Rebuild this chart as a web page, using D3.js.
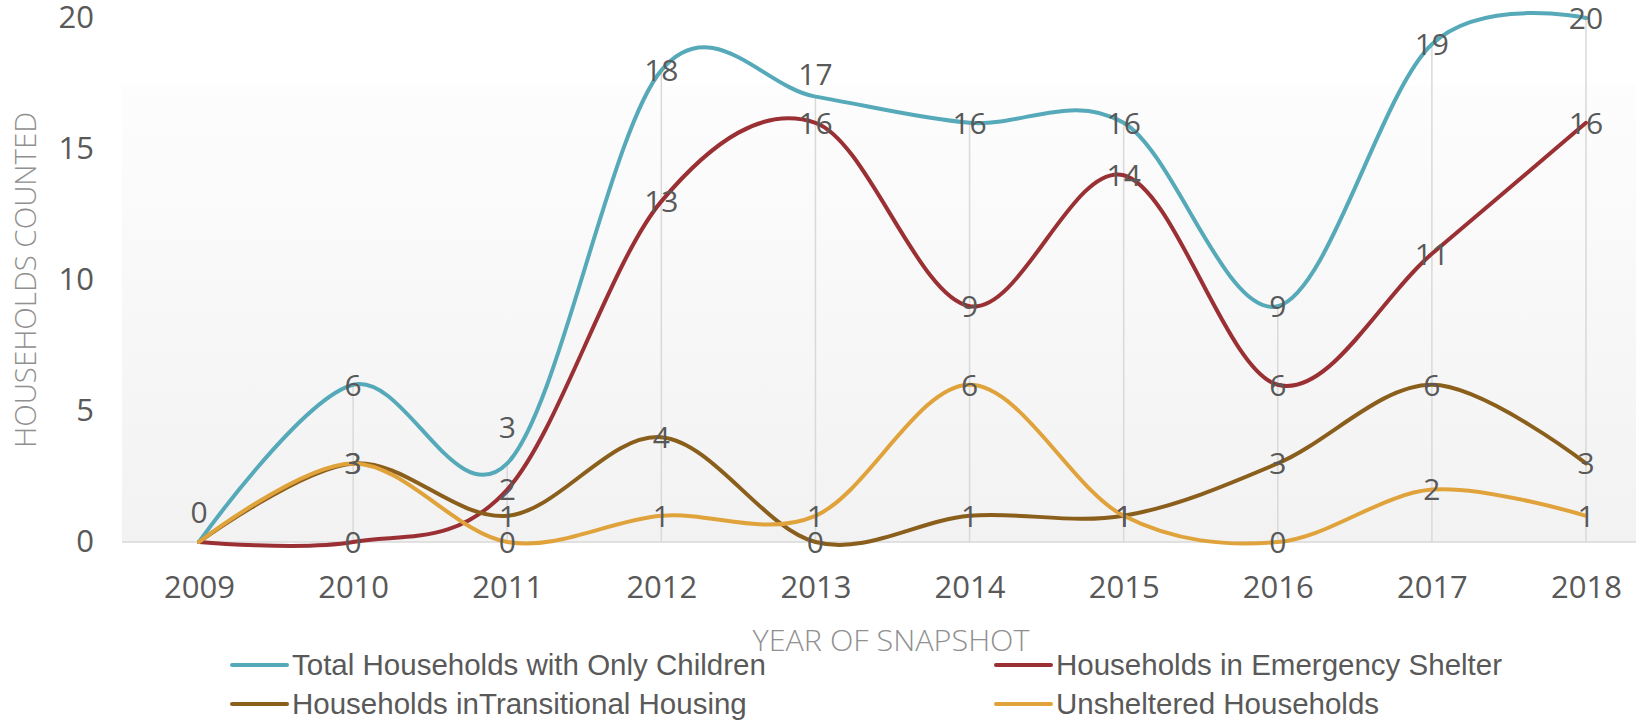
<!DOCTYPE html>
<html>
<head>
<meta charset="utf-8">
<script src="https://cdn.jsdelivr.net/npm/d3@7"></script>
<style>
  body { margin: 0; background: #fff; }
  svg { display: block; }
</style>
</head>
<body>
<svg id="chart"></svg>
<script>
var width = 1636,
    height = 722;

var years = ["2009", "2010", "2011", "2012", "2013", "2014", "2015", "2016", "2017", "2018"];
var totalHouseholds = [0, 6, 3, 18, 17, 16, 16, 9, 19, 20];
var emergencyShelter = [0, 0, 2, 13, 16, 9, 14, 6, 11, 16];
var transitionalHousing = [0, 3, 1, 4, 0, 1, 1, 3, 6, 3];
var unsheltered = [0, 3, 0, 1, 1, 6, 1, 0, 2, 1];
var seriesNames = ["Total Households with Only Children", "Households in Emergency Shelter",
                   "Households inTransitional Housing", "Unsheltered Households"];
var yTicks = [0, 5, 10, 15, 20];

var colors = ["#55a9b9", "#9a3034", "#8a5e1b", "#e0a33b"];
var series = [totalHouseholds, emergencyShelter, transitionalHousing, unsheltered].map(function(v, i) {
    return { name: seriesNames[i], values: v, color: colors[i], id: i };
});

// labels moved above the point in the original (series id -> index -> px)
var labelLift = { 0: { 0: 30, 2: 36, 4: 22 } };

var x = d3.scalePoint().domain(years).range([199, 1586]);
var y = d3.scaleLinear().domain([0, 20]).range([542, 18]);

var svg = d3.select("#chart").attr("width", width).attr("height", height);

// plot background gradient
var defs = svg.append("defs");
var grad = defs.append("linearGradient").attr("id", "bg").attr("x1", 0).attr("y1", 0).attr("x2", 0).attr("y2", 1);
grad.append("stop").attr("offset", "0%").attr("stop-color", "#fdfdfd");
grad.append("stop").attr("offset", "100%").attr("stop-color", "#f2f2f2");
svg.append("rect")
    .attr("x", 122).attr("y", 85)
    .attr("width", width - 122).attr("height", 542 - 85)
    .attr("fill", "url(#bg)");

// drop lines
svg.selectAll(".drop").data(years)
    .enter()
    .append("line")
        .attr("x1", function(d) { return x(d); })
        .attr("x2", function(d) { return x(d); })
        .attr("y1", function(d, i) { return y(d3.max(series, function(s) { return s.values[i]; })); })
        .attr("y2", y(0))
        .style("stroke", "#d9d9d9")
        .style("stroke-width", 1.5);

// baseline
svg.append("line")
    .attr("x1", 122).attr("x2", width)
    .attr("y1", y(0)).attr("y2", y(0))
    .style("stroke", "#d9d9d9")
    .style("stroke-width", 1.5);

// y axis
var yAxis = svg.append("g")
    .attr("transform", "translate(94,0)")
    .call(d3.axisLeft(y).tickValues(yTicks).tickSize(0).tickPadding(0));
yAxis.select(".domain").remove();
yAxis.selectAll("text")
    .style("font-family", "'Open Sans', sans-serif")
    .style("font-size", "31px")
    .style("fill", "#595959");

// x axis
var xAxis = svg.append("g")
    .attr("transform", "translate(0," + y(0) + ")")
    .call(d3.axisBottom(x).tickSize(0).tickPadding(0));
xAxis.select(".domain").remove();
xAxis.selectAll("text")
    .attr("y", 45)
    .attr("dy", "0.36em")
    .style("font-family", "'Open Sans', sans-serif")
    .style("font-size", "31px")
    .style("fill", "#595959");

// axis titles
svg.append("text")
    .attr("transform", "translate(36,280) rotate(-90)")
    .attr("text-anchor", "middle")
    .attr("textLength", 336)
    .attr("lengthAdjust", "spacingAndGlyphs")
    .style("font-family", "'Open Sans', sans-serif")
    .style("font-weight", 300)
    .style("font-size", "30px")
    .style("fill", "#909090")
    .text("HOUSEHOLDS COUNTED");

svg.append("text")
    .attr("x", 891).attr("y", 651)
    .attr("text-anchor", "middle")
    .attr("textLength", 277)
    .attr("lengthAdjust", "spacingAndGlyphs")
    .style("font-family", "'Open Sans', sans-serif")
    .style("font-weight", 300)
    .style("font-size", "30px")
    .style("fill", "#909090")
    .text("YEAR OF SNAPSHOT");

// lines
var line = d3.line()
    .x(function(d, i) { return x(years[i]); })
    .y(function(d) { return y(d); })
    .curve(d3.curveCardinal.tension(0));

svg.selectAll(".series").data(series)
    .enter()
    .append("path")
        .attr("d", function(d) { return line(d.values); })
        .style("fill", "none")
        .style("stroke", function(d) { return d.color; })
        .style("stroke-width", 4)
        .style("stroke-linecap", "round")
        .style("stroke-linejoin", "round");

// data labels
var labels = [];
series.forEach(function(s) {
    s.values.forEach(function(v, i) {
        if (i === 0 && s.id !== 0) return;
        var lift = (labelLift[s.id] && labelLift[s.id][i]) || 0;
        labels.push({ v: v, x: x(years[i]), y: y(v) - lift });
    });
});
svg.selectAll(".lbl").data(labels)
    .enter()
    .append("text")
        .attr("x", function(d) { return d.x; })
        .attr("y", function(d) { return d.y; })
        .attr("dy", "0.36em")
        .attr("text-anchor", "middle")
        .style("font-family", "'Open Sans', sans-serif")
        .style("font-size", "30px")
        .style("fill", "#595959")
        .text(function(d) { return d.v; });

// legend
var legendPos = [[232, 665], [996, 665], [232, 704], [996, 704]];
var legend = svg.selectAll(".legend").data(series)
    .enter()
    .append("g")
        .attr("transform", function(d, i) { return "translate(" + legendPos[i][0] + "," + legendPos[i][1] + ")"; });
legend.append("line")
    .attr("x1", 0).attr("x2", 55)
    .style("stroke", function(d) { return d.color; })
    .style("stroke-width", 4)
    .style("stroke-linecap", "round");
legend.append("text")
    .attr("x", 60)
    .attr("dy", "0.35em")
    .style("font-family", "'Liberation Sans', Arial, sans-serif")
    .style("font-size", "29.5px")
    .style("fill", "#595959")
    .text(function(d) { return d.name; });
</script>
</body>
</html>
